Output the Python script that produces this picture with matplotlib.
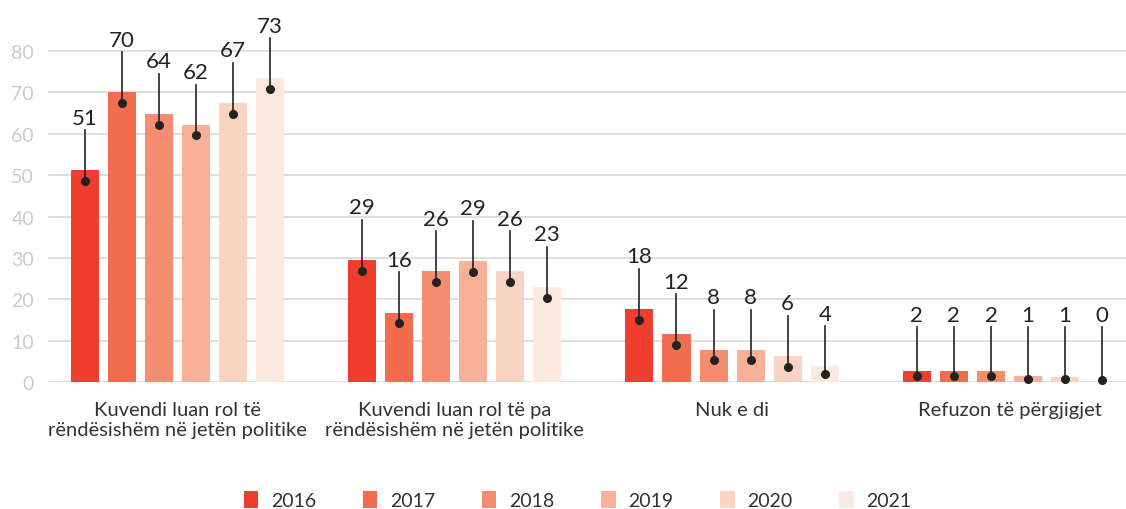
import numpy as np
import matplotlib
matplotlib.use("Agg")
import matplotlib.pyplot as plt
from matplotlib.patches import Patch

categories = [
    "Kuvendi luan rol të\nrëndësishëm në jetën politike",
    "Kuvendi luan rol të pa\nrëndësishëm në jetën politike",
    "Nuk e di",
    "Refuzon të përgjigjet",
]
years = ["2016", "2017", "2018", "2019", "2020", "2021"]

# bar heights, one list per year
v2016 = [51.2, 29.5, 17.7, 2.7]
v2017 = [70.0, 16.8, 11.5, 2.7]
v2018 = [64.8, 26.8, 7.8, 2.7]
v2019 = [62.2, 29.3, 7.8, 1.4]
v2020 = [67.5, 26.8, 6.3, 1.3]
v2021 = [73.4, 23.0, 3.8, 0.0]

# printed labels
l2016 = [51, 29, 18, 2]
l2017 = [70, 16, 12, 2]
l2018 = [64, 26, 8, 2]
l2019 = [62, 29, 8, 1]
l2020 = [67, 26, 6, 1]
l2021 = [73, 23, 4, 0]

colors = ["#ef3e2f", "#f26c4f", "#f58e70", "#f8b198", "#fad4c3", "#fce9df"]

values = [v2016, v2017, v2018, v2019, v2020, v2021]
labels = [l2016, l2017, l2018, l2019, l2020, l2021]

plt.rcParams["font.family"] = ["Lato", "DejaVu Sans"]

fig = plt.figure(figsize=(11.26, 5.10), dpi=100)
ax = fig.add_axes([48 / 1126, 127 / 510, 1 - 48 / 1126, 383 / 510])

x = np.arange(len(categories))
step = 0.1336
width = 0.101

for i, (vals, labs) in enumerate(zip(values, labels)):
    xs = x + (i - 2.5) * step
    ax.bar(xs, vals, width=width, color=colors[i], zorder=2)
    for xi, v, lab in zip(xs, vals, labs):
        # dot sits a little below the bar top, leader line runs up to the label
        dot = max(v - min(2.6, v / 2), 0.5)
        ly = max(v, 3.5) + 12.7
        ax.plot([xi, xi], [dot, ly - 3.0], color="#222222", lw=1.2, zorder=3, clip_on=False)
        ax.plot(xi, dot, "o", color="#222222", ms=5.5, zorder=4, clip_on=False)
        ax.text(xi, ly, str(lab), ha="center", va="center", fontsize=16,
                color="#222222", zorder=5)

ax.set_xlim(-0.466, 3.42)
ax.set_ylim(0, 92.6)
ax.set_yticks(range(0, 81, 10))
ax.tick_params(axis="y", length=0, labelsize=14, labelcolor="#cbcbcb", pad=10)
ax.set_xticks(x)
ax.set_xticklabels(categories, fontsize=14.5, color="#333333", linespacing=1.2)
ax.tick_params(axis="x", length=0, pad=14)
ax.grid(axis="y", color="#dcdcdc", lw=1.3, zorder=0)
for s in ax.spines.values():
    s.set_visible(False)

handles = [Patch(facecolor=c, label=y) for c, y in zip(colors, years)]
fig.legend(handles=handles, loc="center", bbox_to_anchor=(0.513, 9 / 510), ncol=6,
           frameon=False, fontsize=14, handlelength=0.75, handleheight=1.0,
           handletextpad=0.65, columnspacing=2.4, labelcolor="#333333",
           borderpad=0)

fig.savefig("out.png", dpi=100)
